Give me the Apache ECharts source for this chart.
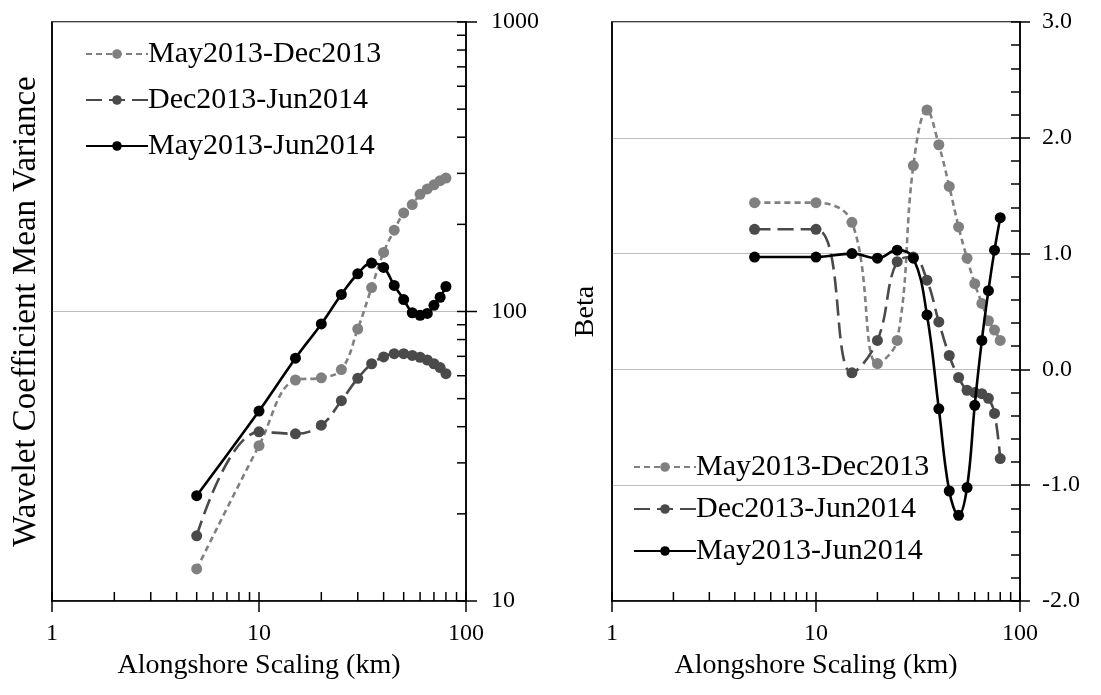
<!DOCTYPE html>
<html>
<head>
<meta charset="utf-8">
<script src="https://cdn.jsdelivr.net/npm/echarts@6/dist/echarts.min.js"></script>
<style>
  html, body { margin: 0; padding: 0; background: #fff; }
  #chart { width: 1101px; height: 695px; }
</style>
</head>
<body>
<div id="chart"></div>
<script>
// alongshore scale (km) of every point
var scales = [5, 10, 15, 20, 25, 30, 35, 40, 45, 50, 55, 60, 65, 70, 75, 80];
var seriesNames = ['May2013-Dec2013', 'Dec2013-Jun2014', 'May2013-Jun2014'];

// left panel: wavelet coefficient mean variance
var varMayDec = [12.9, 34.4, 58, 59, 63, 87, 121, 160, 191, 219, 234, 254, 265, 274, 283, 289];
var varDecJun = [16.8, 38.4, 37.8, 40.5, 49.2, 58.8, 66, 69.7, 71.5, 71.5, 70.5, 69.5, 68, 66, 64, 61];
var varMayJun = [23.1, 45.3, 69, 90.6, 114.5, 135, 147, 142, 123, 110, 99, 97, 98.5, 105, 112, 122];

// right panel: beta
var betaMayDec = [1.44, 1.44, 1.27, 0.05, 0.25, 1.76, 2.24, 1.94, 1.58, 1.23, 0.96, 0.74, 0.57, 0.42, 0.34, 0.25];
var betaDecJun = [1.21, 1.21, -0.03, 0.25, 0.93, 0.97, 0.77, 0.41, 0.12, -0.07, -0.18, -0.2, -0.21, -0.25, -0.38, -0.77];
var betaMayJun = [0.97, 0.97, 1.0, 0.96, 1.03, 0.96, 0.47, -0.34, -1.05, -1.26, -1.02, -0.31, 0.25, 0.68, 1.03, 1.31];

// tick values for the log axes
var logMajorX = [1, 10, 100];
var logMinorX = [2, 3, 4, 5, 6, 7, 8, 9, 20, 30, 40, 50, 60, 70, 80, 90];
var logMajorY = [10, 100, 1000];
var logMinorY = [20, 30, 40, 50, 60, 70, 80, 90, 200, 300, 400, 500, 600, 700, 800, 900];

var FONT = 'Liberation Serif';
var styles = [
    { color: '#808080', type: [6, 4] },
    { color: '#4a4a4a', type: [16, 7] },
    { color: '#000000', type: 'solid' }
];

function pairs(ys) {
    return scales.map(function (x, i) { return [x, ys[i]]; });
}

function lineSeries(idx, ys, xi, yi) {
    var s = styles[idx];
    return {
        name: seriesNames[idx],
        type: 'line',
        xAxisIndex: xi,
        yAxisIndex: yi,
        smooth: 0.4,
        symbol: 'circle',
        symbolSize: 11,
        itemStyle: { color: s.color },
        lineStyle: { color: s.color, width: 2.6, type: s.type },
        z: 3 + idx,
        data: pairs(ys)
    };
}

// tick marks drawn through the axis scales; inner length, outer length
function tickSeries(data, xi, yi, dir, inner, outer) {
    return {
        type: 'custom',
        xAxisIndex: xi,
        yAxisIndex: yi,
        silent: true,
        clip: false,
        z: 10,
        renderItem: function (params, api) {
            var p = api.coord([api.value(0), api.value(1)]);
            var shape = dir === 'x'
                ? { x1: p[0], y1: p[1] + outer, x2: p[0], y2: p[1] - inner }
                : { x1: p[0] + outer, y1: p[1], x2: p[0] - inner, y2: p[1] };
            return {
                type: 'line',
                shape: shape,
                style: { stroke: '#000', lineWidth: 1.5 }
            };
        },
        data: data
    };
}

var axisLineBlack = { show: true, onZero: false, lineStyle: { color: '#000', width: 1.5 } };
var labelStyle = { color: '#000', fontFamily: FONT, fontSize: 24 };
var nameStyle = { color: '#000', fontFamily: FONT, fontSize: 28 };

function logX(gi) {
    return {
        type: 'log', gridIndex: gi, logBase: 10, min: 1, max: 100,
        position: 'bottom',
        axisLine: axisLineBlack,
        axisTick: { show: false },
        minorTick: { show: false },
        axisLabel: Object.assign({ margin: 21, formatter: function (v) { return String(v); } }, labelStyle),
        splitLine: { show: false },
        name: 'Alongshore Scaling (km)',
        nameLocation: 'middle',
        nameGap: 51,
        nameTextStyle: nameStyle
    };
}

function dummyLeft(gi, name, size, gap) {
    return {
        type: 'value', gridIndex: gi, position: 'left', min: 0, max: 1,
        axisLine: axisLineBlack,
        axisTick: { show: false },
        axisLabel: { show: false },
        splitLine: { show: false },
        name: name,
        nameLocation: 'middle',
        nameRotate: 90,
        nameGap: gap,
        nameTextStyle: { color: '#000', fontFamily: FONT, fontSize: size }
    };
}

var chart = echarts.init(document.getElementById('chart'));

chart.setOption({
    animation: false,
    backgroundColor: '#fff',
    textStyle: { fontFamily: FONT },
    grid: [
        { left: 52, top: 22, width: 414, height: 579, show: true, borderColor: '#000', borderWidth: 1.5 },
        { left: 612, top: 22, width: 408, height: 579, show: true, borderColor: '#000', borderWidth: 1.5 }
    ],
    legend: [
        {
            data: seriesNames, orient: 'vertical', left: 80, top: 34,
            itemWidth: 62, itemHeight: 12, itemGap: 16,
            textStyle: { color: '#000', fontFamily: FONT, fontSize: 30, padding: [0, 0, 0, -5] }
        },
        {
            data: seriesNames, orient: 'vertical', left: 628, top: 447,
            itemWidth: 62, itemHeight: 12, itemGap: 12,
            textStyle: { color: '#000', fontFamily: FONT, fontSize: 30, padding: [0, 0, 0, -5] }
        }
    ],
    xAxis: [logX(0), logX(1)],
    yAxis: [
        {
            type: 'log', gridIndex: 0, logBase: 10, min: 10, max: 1000,
            position: 'right',
            axisLine: axisLineBlack,
            axisTick: { show: false },
            minorTick: { show: false },
            axisLabel: Object.assign({ margin: 25, formatter: function (v) { return String(v); } }, labelStyle),
            splitLine: { show: true, lineStyle: { color: '#bdbdbd', width: 1.2 } }
        },
        dummyLeft(0, 'Wavelet Coefficient Mean Variance', 33, 9),
        {
            type: 'value', gridIndex: 1, min: -2, max: 3, interval: 1,
            position: 'right',
            axisLine: axisLineBlack,
            axisTick: { show: true, length: 10, lineStyle: { color: '#000', width: 1.5 } },
            axisLabel: Object.assign({ margin: 22, formatter: function (v) { return v.toFixed(1); } }, labelStyle),
            splitLine: { show: true, lineStyle: { color: '#bdbdbd', width: 1.2 } }
        },
        {
            type: 'value', gridIndex: 1, min: -2, max: 3, interval: 1,
            position: 'right',
            axisLine: { show: false },
            axisTick: { show: true, inside: true, length: 9, lineStyle: { color: '#000', width: 1.5 } },
            minorTick: { show: true, splitNumber: 5, length: 9, lineStyle: { color: '#000', width: 1.5 } },
            axisLabel: { show: false },
            splitLine: { show: false }
        },
        dummyLeft(1, 'Beta', 28, 12)
    ],
    series: [
        lineSeries(0, varMayDec, 0, 0),
        lineSeries(1, varDecJun, 0, 0),
        lineSeries(2, varMayJun, 0, 0),
        lineSeries(0, betaMayDec, 1, 2),
        lineSeries(1, betaDecJun, 1, 2),
        lineSeries(2, betaMayJun, 1, 2),
        tickSeries(logMajorX.map(function (v) { return [v, 10]; }), 0, 0, 'x', 9, 11),
        tickSeries(logMinorX.map(function (v) { return [v, 10]; }), 0, 0, 'x', 9, 0),
        tickSeries(logMajorY.map(function (v) { return [100, v]; }), 0, 0, 'y', 9, 11),
        tickSeries(logMinorY.map(function (v) { return [100, v]; }), 0, 0, 'y', 9, 0),
        tickSeries(logMajorX.map(function (v) { return [v, -2]; }), 1, 2, 'x', 9, 11),
        tickSeries(logMinorX.map(function (v) { return [v, -2]; }), 1, 2, 'x', 9, 0)
    ]
});
</script>
</body>
</html>
